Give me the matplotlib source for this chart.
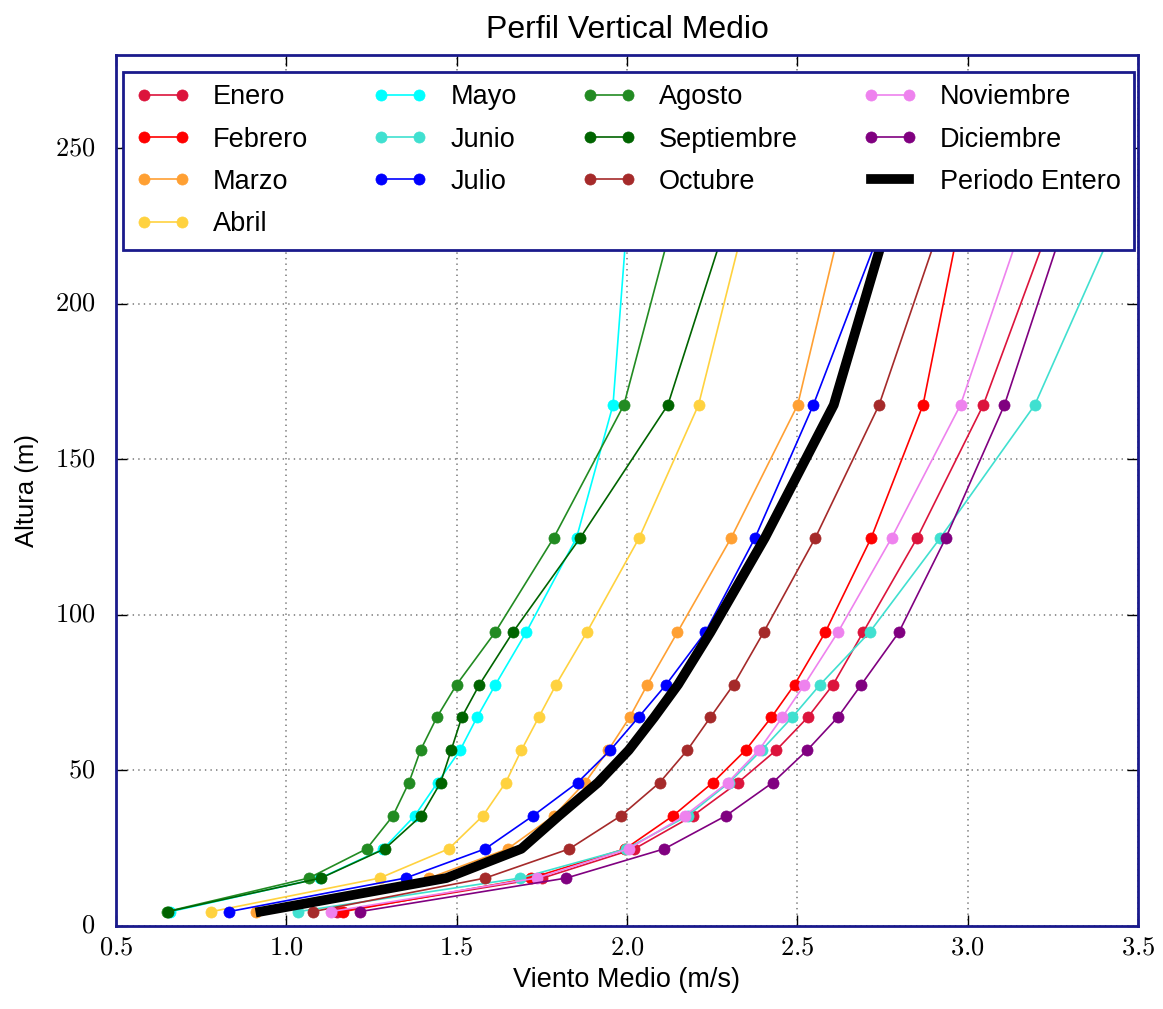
import matplotlib
matplotlib.use('Agg')
import matplotlib.pyplot as plt

plt.style.use('classic')
plt.rcParams['font.family'] = ['Liberation Sans Narrow', 'Liberation Sans', 'DejaVu Sans']
plt.rcParams['mathtext.fontset'] = 'cm'

# heights of the measurement levels (m); the last one sits behind the legend
alturas = [4.6, 15.4, 24.8, 35.4, 46.1, 56.5, 67.1, 77.6, 94.4, 124.8, 167.5, 225]

meses = ['Enero', 'Febrero', 'Marzo', 'Abril', 'Mayo', 'Junio', 'Julio',
         'Agosto', 'Septiembre', 'Octubre', 'Noviembre', 'Diciembre']
colores = ['crimson', 'red', '#ffa033', '#ffd23f', 'cyan', 'turquoise', 'blue',
           'forestgreen', 'darkgreen', 'brown', 'violet', 'purple']

enero = [1.15, 1.752, 2.022, 2.193, 2.326, 2.438, 2.531, 2.605, 2.693, 2.852, 3.046, 3.24]
febrero = [1.166, 1.719, 1.995, 2.135, 2.252, 2.348, 2.424, 2.492, 2.582, 2.717, 2.869, 2.974]
marzo = [0.912, 1.42, 1.65, 1.785, 1.877, 1.945, 2.008, 2.06, 2.148, 2.306, 2.501, 2.626]
abril = [0.78, 1.274, 1.477, 1.577, 1.644, 1.69, 1.741, 1.792, 1.882, 2.036, 2.21, 2.342]
mayo = [0.66, 1.10, 1.285, 1.377, 1.444, 1.51, 1.56, 1.614, 1.704, 1.852, 1.959, 1.999]
junio = [1.034, 1.687, 1.998, 2.178, 2.30, 2.395, 2.485, 2.567, 2.712, 2.92, 3.197, 3.43]
julio = [0.831, 1.35, 1.584, 1.724, 1.855, 1.951, 2.034, 2.115, 2.23, 2.376, 2.547, 2.748]
agosto = [0.649, 1.066, 1.236, 1.313, 1.36, 1.394, 1.442, 1.50, 1.613, 1.785, 1.991, 2.13]
septiembre = [0.652, 1.102, 1.289, 1.396, 1.453, 1.484, 1.515, 1.567, 1.665, 1.863, 2.12, 2.288]
octubre = [1.078, 1.584, 1.831, 1.982, 2.096, 2.177, 2.245, 2.313, 2.401, 2.553, 2.74, 2.919]
noviembre = [1.13, 1.735, 2.005, 2.169, 2.296, 2.387, 2.456, 2.521, 2.619, 2.777, 2.979, 3.158]
diciembre = [1.215, 1.822, 2.11, 2.29, 2.428, 2.529, 2.619, 2.688, 2.798, 2.936, 3.108, 3.281]

periodo_entero = [0.924, 1.47, 1.69, 1.80, 1.915, 2.005, 2.08, 2.15, 2.245, 2.405, 2.607, 2.762]

series = [enero, febrero, marzo, abril, mayo, junio, julio,
          agosto, septiembre, octubre, noviembre, diciembre]

xticks = [0.5, 1.0, 1.5, 2.0, 2.5, 3.0, 3.5]
yticks = [0, 50, 100, 150, 200, 250]

fig = plt.figure(figsize=(11.63, 10.09), dpi=100, facecolor='white')
ax = fig.add_axes([0.0997, 0.0823, 0.8788, 0.8632])

ax.grid(True, color='gray', linestyle=':', linewidth=1.2)
ax.set_axisbelow(True)

for nombre, color, viento in zip(meses, colores, series):
  ax.plot(viento, alturas, '-o', color=color, markeredgecolor=color,
          linewidth=1.2, markersize=8, label=nombre)

ax.plot(periodo_entero, alturas, '-', color='black', linewidth=7, label='Periodo Entero')

ax.set_xlim(0.5, 3.5)
ax.set_ylim(0, 280)
# tick labels in computer modern through mathtext
ax.set_xticks(xticks)
ax.set_xticklabels(['$%.1f$' % v for v in xticks])
ax.set_yticks(yticks)
ax.set_yticklabels(['$%d$' % v for v in yticks])
ax.tick_params(labelsize=19, length=8, width=1, direction='in', top=True, right=True)
ax.tick_params(axis='x', pad=7)
ax.tick_params(axis='y', pad=15)

for spine in ax.spines.values():
  spine.set_color('#1a1a8c')
  spine.set_linewidth(2)

ax.set_title('Perfil Vertical Medio', fontsize=23, pad=12)
ax.set_xlabel('Viento Medio (m/s)', fontsize=19.5, labelpad=5)
ax.set_ylabel('Altura (m)', fontsize=18.5, labelpad=11)

leg = ax.legend(loc='upper left', bbox_to_anchor=(0.007, 0.981), borderaxespad=0,
                ncol=4, fontsize=19.5, numpoints=2, handlelength=2.0, handletextpad=0.85,
                columnspacing=2.4, labelspacing=0.6, borderpad=0.47, fancybox=False)
leg.get_frame().set_edgecolor('#1a1a8c')
leg.get_frame().set_linewidth(2)

fig.savefig('out.png', dpi=100, facecolor='white')
